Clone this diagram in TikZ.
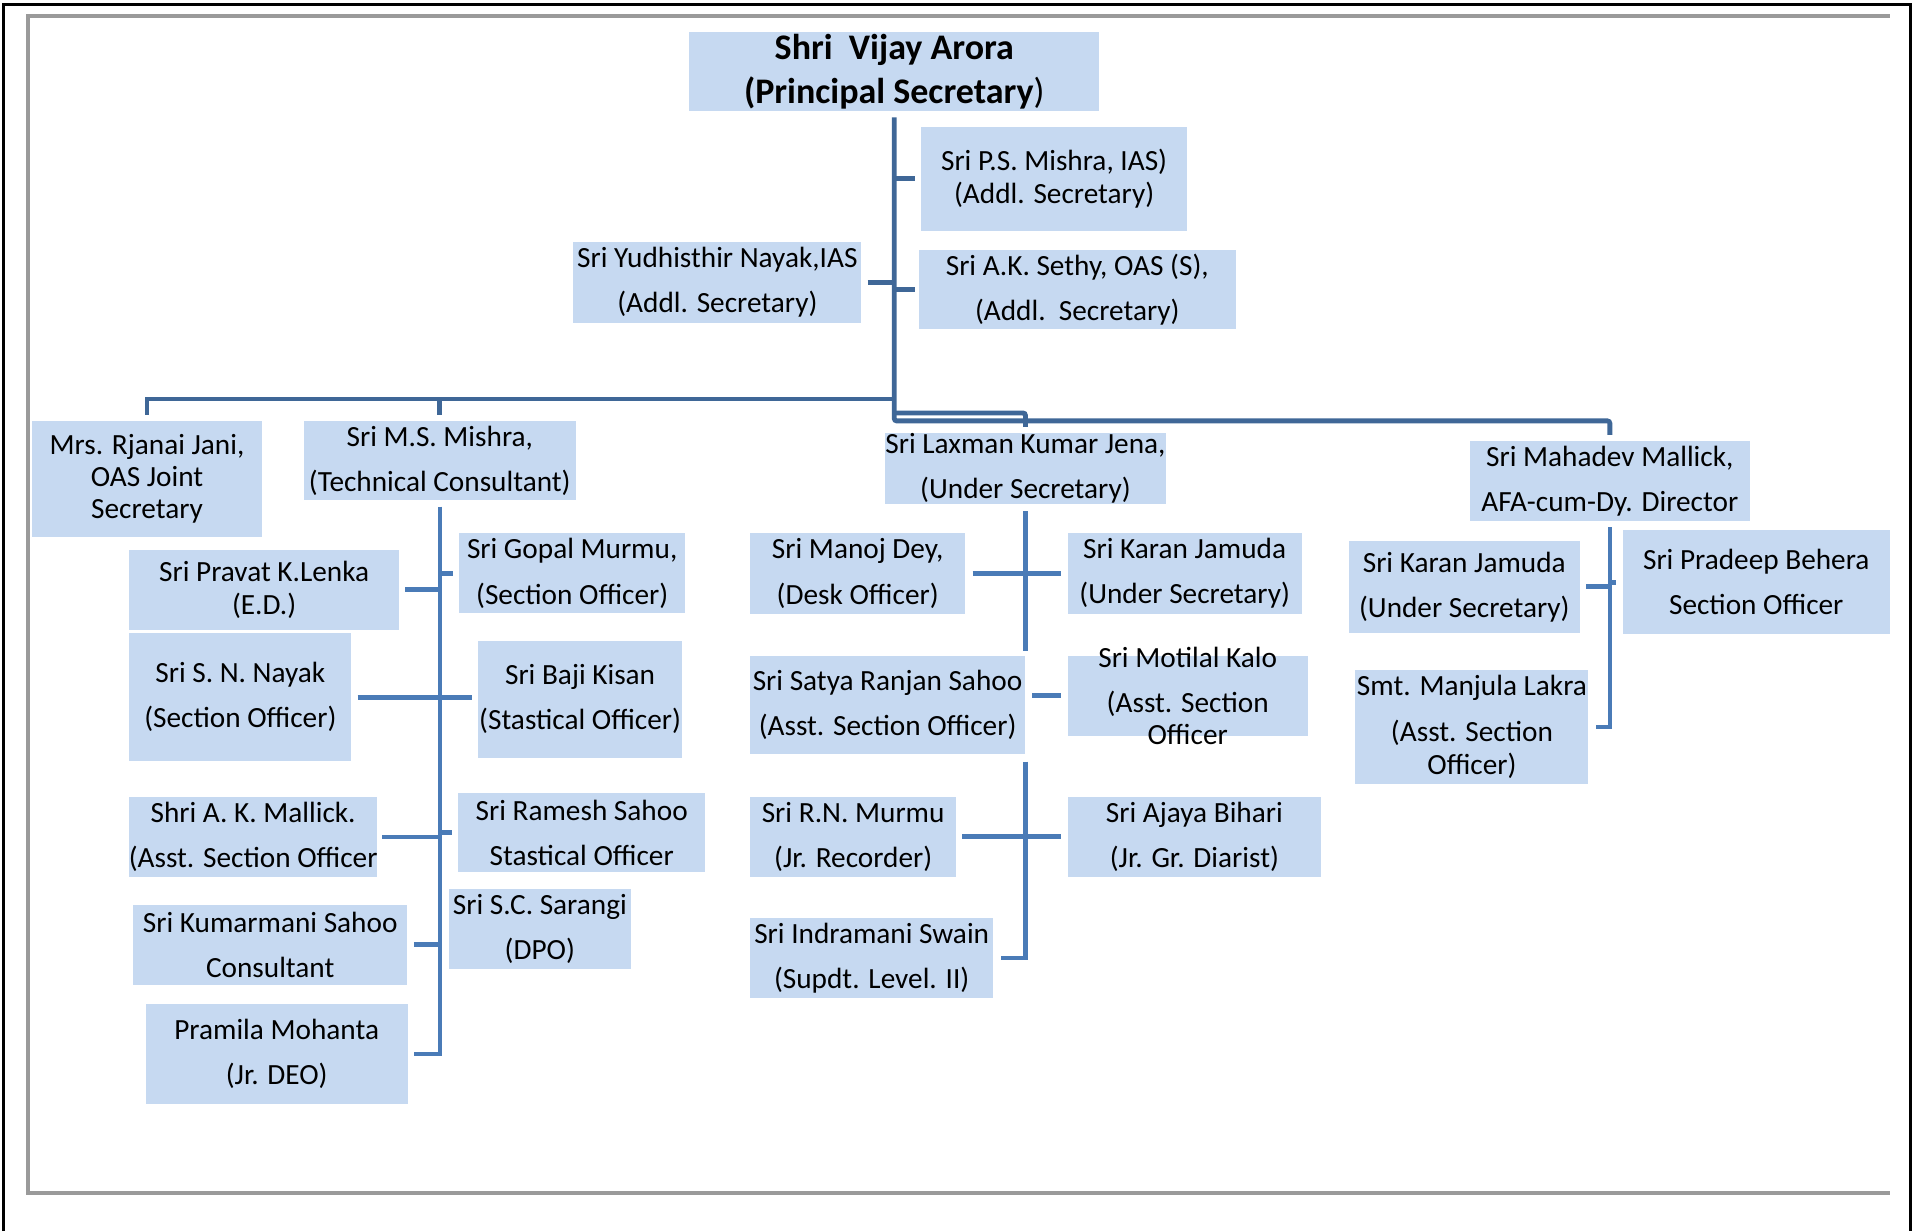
\documentclass[tikz,border=0pt]{standalone}
\usepackage{fontspec}
\setmainfont{Carlito}
\usetikzlibrary{calc}
\definecolor{boxblue}{HTML}{C6D9F1}
\definecolor{lineblue}{HTML}{3F6797}
\definecolor{subblue}{HTML}{4A7BB7}
\definecolor{framegray}{HTML}{9A9A9A}
\newcommand{\orgfont}{\fontsize{24}{37}\selectfont}
\newcommand{\orgtight}{\fontsize{24}{27}\selectfont}
\newcommand{\headfont}{\fontsize{29.5}{36}\selectfont\bfseries}

\begin{document}
\begin{tikzpicture}[x=1pt,y=-1pt,
    box/.style={fill=boxblue, inner sep=0pt},
    txt/.style={align=center, inner sep=0pt, font=\orgfont},
    mainline/.style={lineblue, line width=4pt},
    subline/.style={subblue, line width=3.5pt},
    stub/.style={subblue, line width=4pt}]
    \useasboundingbox (0,0) rectangle (1568,1009);
    % page frame
    \draw[black, line width=2.5pt] (2.5,1009) -- (2.5,4) -- (1566,4) -- (1566,1009);
    \draw[framegray, line width=3pt] (1549,13) -- (23,13) -- (23,978) -- (1549,978);

    % top level
    \node[box, minimum width=336, minimum height=65, label={[txt,font=\headfont]center:Shri\ \ Vijay Arora\\(Principal Secretary{\mdseries)}}] (vijay) at (733,58.5) {};
    \node[box, minimum width=218, minimum height=85, label={[txt,font=\orgtight]center:Sri P.S. Mishra, IAS)\\(Addl. Secretary)}] (psmishra) at (864,146.5) {};
    \node[box, minimum width=236, minimum height=66.6, label={[txt]center:Sri Yudhisthir Nayak,IAS\\(Addl. Secretary)}] (yudhisthir) at (588,231.3) {};
    \node[box, minimum width=260, minimum height=65.4, label={[txt]center:Sri A.K. Sethy, OAS (S),\\(Addl.\ \ Secretary)}] (sethy) at (883,237.3) {};

    % second level
    \node[box, minimum width=189, minimum height=95, label={[txt,font=\fontsize{24}{26.5}\selectfont]center:Mrs. Rjanai Jani,\\OAS Joint\\Secretary}] (rjanai) at (120.5,392.5) {};
    \node[box, minimum width=223, minimum height=65, label={[txt]center:Sri M.S. Mishra,\\(Technical Consultant)}] (msmishra) at (360.5,377.5) {};
    \node[box, minimum width=231, minimum height=58, label={[txt]center:Sri Laxman Kumar Jena,\\(Under Secretary)}] (laxman) at (840.5,384) {};
    \node[box, minimum width=229, minimum height=65.5, label={[txt]center:Sri Mahadev Mallick,\\AFA-cum-Dy. Director}] (mahadev) at (1319.5,394.3) {};

    % under M.S. Mishra
    \node[box, minimum width=221, minimum height=65, label={[txt,font=\orgtight]center:Sri Pravat K.Lenka\\(E.D.)}] (pravat) at (216.5,483.5) {};
    \node[box, minimum width=182, minimum height=105, label={[txt]center:Sri S. N. Nayak\\(Section Officer)}] (snnayak) at (197,571.5) {};
    \node[box, minimum width=203, minimum height=66, label={[txt]center:Shri A. K. Mallick.\\(Asst. Section Officer}] (akmallick) at (207.5,686) {};
    \node[box, minimum width=225, minimum height=65, label={[txt]center:Sri Kumarmani Sahoo\\Consultant}] (kumarmani) at (221.5,774.5) {};
    \node[box, minimum width=214.5, minimum height=82, label={[txt]center:Pramila Mohanta\\(Jr. DEO)}] (pramila) at (226.8,864) {};
    \node[box, minimum width=185, minimum height=65.7, label={[txt]center:Sri Gopal Murmu,\\(Section Officer)}] (gopal) at (469,470) {};
    \node[box, minimum width=167, minimum height=95.6, label={[txt]center:Sri Baji Kisan\\(Stastical Officer)}] (baji) at (475.5,573.2) {};
    \node[box, minimum width=202.5, minimum height=65.3, label={[txt]center:Sri Ramesh Sahoo\\Stastical Officer}] (ramesh) at (476.8,682.4) {};
    \node[box, minimum width=149, minimum height=65.6, label={[txt]center:Sri S.C. Sarangi\\(DPO)}] (sarangi) at (442.5,761.2) {};

    % under Laxman Kumar Jena
    \node[box, minimum width=176, minimum height=66, label={[txt]center:Sri Manoj Dey,\\(Desk Officer)}] (manoj) at (703,470) {};
    \node[box, minimum width=192, minimum height=66, label={[txt]center:Sri Karan Jamuda\\(Under Secretary)}] (karanA) at (971,470) {};
    \node[box, minimum width=225, minimum height=80.6, label={[txt]center:Sri Satya Ranjan Sahoo\\(Asst. Section Officer)}] (satya) at (727.5,577.7) {};
    \node[box, minimum width=197, minimum height=65.6, label={[txt]center:Sri Motilal Kalo\\(Asst. Section\\[-11pt]Officer}] (motilal) at (973.5,570.2) {};
    \node[box, minimum width=168.6, minimum height=65.6, label={[txt]center:Sri R.N. Murmu\\(Jr. Recorder)}] (rnmurmu) at (699.3,685.8) {};
    \node[box, minimum width=208, minimum height=65.6, label={[txt]center:Sri Ajaya Bihari\\(Jr. Gr. Diarist)}] (ajaya) at (979,685.8) {};
    \node[box, minimum width=199, minimum height=65.5, label={[txt]center:Sri Indramani Swain\\(Supdt. Level. II)}] (indramani) at (714.5,785.3) {};

    % under Mahadev Mallick
    \node[box, minimum width=189.6, minimum height=75, label={[txt]center:Sri Karan Jamuda\\(Under Secretary)}] (karanB) at (1200.2,481) {};
    \node[box, minimum width=219, minimum height=85, label={[txt]center:Sri Pradeep Behera\\Section Officer}] (pradeep) at (1439.5,477.2) {};
    \node[box, minimum width=191, minimum height=93.6, label={[txt]center:Smt. Manjula Lakra\\(Asst. Section\\[-10pt]Officer)}] (manjula) at (1206.5,595.8) {};

    % main trunk and branches
    \coordinate (trunkbase) at (733,345);
    \coordinate (lbranch) at (733,327);
    \coordinate (mbranch) at (733,338.5);
    \draw[mainline, rounded corners=2pt] ([yshift=-5pt]vijay.south) -- (trunkbase) -| ([yshift=5pt]mahadev.north);
    \draw[mainline, rounded corners=2pt] (mbranch) -| ([yshift=5pt]laxman.north);
    \draw[mainline] (lbranch) -| ([yshift=5pt]rjanai.north);
    \draw[mainline] (lbranch -| msmishra.north) -- ([yshift=5pt]msmishra.north);
    \draw[mainline] (psmishra.west -| vijay.south) -- ([xshift=-5pt]psmishra.west);
    \draw[mainline] ([xshift=5pt]yudhisthir.east) -- (yudhisthir.east -| vijay.south);
    \draw[mainline] (sethy.west -| vijay.south) -- ([xshift=-3pt]sethy.west);

    % M.S. Mishra group
    \draw[subline] ([yshift=-5pt]msmishra.south) |- ([xshift=5pt]pramila.east);
    \draw[stub] ([xshift=5pt]pravat.east) -- (pravat.east -| msmishra.south);
    \draw[stub] (gopal.west -| msmishra.south) -- ([xshift=-5pt]gopal.west);
    \draw[stub] ([xshift=5pt]snnayak.east) -- ([xshift=-5pt]snnayak.east -| baji.west);
    \draw[stub] ([xshift=4pt]akmallick.east) -- (akmallick.east -| msmishra.south);
    \draw[stub] (ramesh.west -| msmishra.south) -- ([xshift=-5pt]ramesh.west);
    \draw[stub] ([xshift=5pt]kumarmani.east) -- (kumarmani.east -| msmishra.south);

    % Laxman Kumar Jena group
    \draw[subline] ([yshift=-6pt]laxman.south) -- ([yshift=4pt]satya.north -| laxman.south);
    \draw[subline] ([yshift=-6pt]satya.south -| laxman.south) |- ([xshift=6pt]indramani.east);
    \draw[stub] ([xshift=6pt]manoj.east) -- ([xshift=-5pt]karanA.west);
    \draw[stub] ([xshift=6pt]motilal.west -| satya.east) -- ([xshift=-5pt]motilal.west);
    \draw[stub] ([xshift=5pt]rnmurmu.east) -- ([xshift=-5pt]ajaya.west);

    % Mahadev Mallick group
    \draw[subline] ([yshift=-5pt]mahadev.south) |- ([xshift=6pt]manjula.east);
    \draw[stub] ([xshift=5pt]karanB.east) -- (karanB.east -| mahadev.south);
    \draw[stub] (pradeep.west -| mahadev.south) -- ([xshift=-5pt]pradeep.west);
\end{tikzpicture}
\end{document}
